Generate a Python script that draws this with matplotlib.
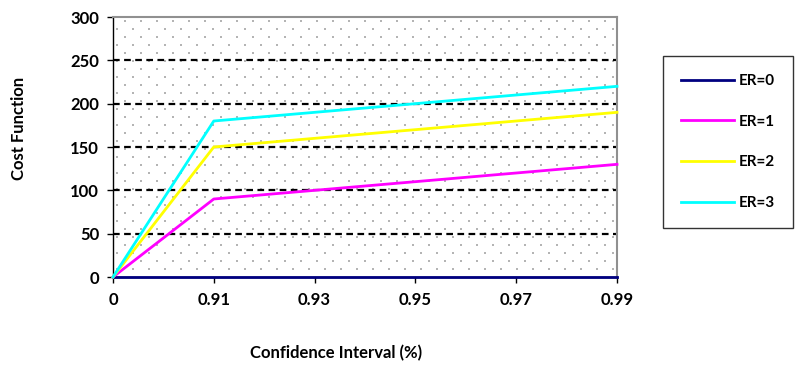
import matplotlib.pyplot as plt
import numpy as np
from matplotlib.lines import Line2D

x_labels = ['0', '0.91', '0.93', '0.95', '0.97', '0.99']
er0 = [0, 0, 0, 0, 0, 0]
er1 = [0, 90, 100, 110, 120, 130]
er2 = [0, 150, 160, 170, 180, 190]
er3 = [0, 180, 190, 200, 210, 220]
names = ['ER=0', 'ER=1', 'ER=2', 'ER=3']
colors = ['#000080', '#ff00ff', '#ffff00', '#00ffff']

plt.rcParams['font.family'] = ['Lato', 'DejaVu Sans']
plt.rcParams['font.weight'] = 'bold'

fig = plt.figure(figsize=(7.96, 3.65), dpi=100)
ax = fig.add_axes([113/796, 88/365, 504/796, 260/365])

# dotted background pattern (staggered grid of tiny gray dots)
W, H = 504, 260
px, py = [], []
for r, yy in enumerate(np.arange(4, H, 8)):
    off = 12 if r % 2 == 0 else 4
    for xx in np.arange(off, W, 16):
        px.append(xx / W)
        py.append(1 - yy / H)
ax.scatter(px, py, s=1.2, color='#b4b4b4', marker='s', linewidths=0,
           transform=ax.transAxes, zorder=0)

xs = range(len(x_labels))
for i in range(50, 300, 50):
    ax.axhline(i, color='black', linestyle=(0, (3, 2)), linewidth=1.6, zorder=1)

series = [er0, er1, er2, er3]
for s, c in zip(series, colors):
    ax.plot(xs, s, color=c, linewidth=2, zorder=3, clip_on=False)

ax.set_xlim(0, 5)
ax.set_ylim(0, 300)
ax.set_xticks(list(xs))
ax.set_xticklabels(x_labels)
ax.set_yticks(range(0, 301, 50))
ax.tick_params(axis='both', labelsize=12, direction='out', length=4, width=1)
ax.tick_params(axis='x', pad=7)
ax.tick_params(axis='y', pad=6)
for sp in ['top', 'right']:
    ax.spines[sp].set_color('#909090')
    ax.spines[sp].set_linewidth(1.5)
ax.spines['left'].set_color('black')
ax.spines['bottom'].set_color('black')
ax.spines['left'].set_linewidth(1)
ax.spines['bottom'].set_linewidth(1)

fig.text(19/796, 1 - 128/365, 'Cost Function', rotation=90, ha='center', va='center', fontsize=12, fontweight='bold')
fig.text(336/796, 1 - 353/365, 'Confidence Interval (%)', ha='center', va='center', fontsize=12, fontweight='bold')

handles = [Line2D([0], [0], color=c, linewidth=2) for c in colors]
leg = fig.legend(handles, names, loc='center', bbox_to_anchor=(728/796, 1 - 142/365),
                 frameon=True, fancybox=False, edgecolor='black', fontsize=11,
                 handlelength=3.5, labelspacing=1.75, borderpad=1.2, handletextpad=0.3)
leg.get_frame().set_linewidth(1)

fig.savefig('out.png', dpi=100)
